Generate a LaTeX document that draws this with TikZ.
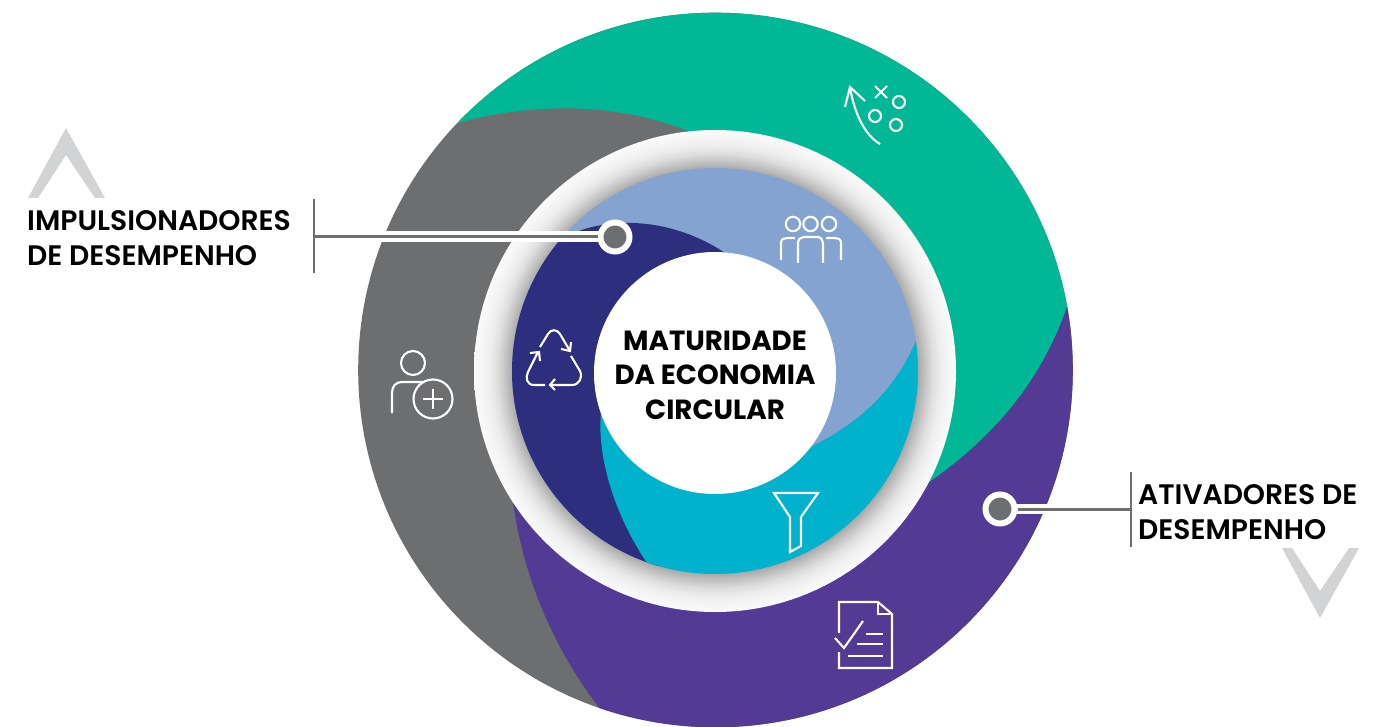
\documentclass[tikz,border=0pt]{standalone}
\usepackage{fontspec}
\setmainfont{Poppins}[UprightFont=* SemiBold,BoldFont=* Bold]
\pgfdeclareradialshading{ringshade}{\pgfpoint{0bp}{0bp}}{color(0bp)=(black!34);color(21bp)=(black!34);color(21.8bp)=(black!23);color(22.6bp)=(black!13);color(23.4bp)=(black!7);color(24.2bp)=(black!4);color(25bp)=(black!2);color(50bp)=(white)}
\definecolor{cgreen}{HTML}{00B796}
\definecolor{cgray}{HTML}{6D6E70}
\definecolor{cpurple}{HTML}{533A94}
\definecolor{cnavy}{HTML}{2E2E7E}
\definecolor{clight}{HTML}{84A3D1}
\definecolor{cteal}{HTML}{00B2CB}
\definecolor{cchev}{HTML}{D1D3D4}
\tikzset{
  icon/.style={draw=white,line width=2.1pt,fill=none,line join=miter},
  dotmark/.style={circle,fill=cgray,draw=white,line width=6pt,minimum size=29pt,inner sep=0pt},
  leader/.style={draw=cgray,line width=3pt},
  tick/.style={draw=cgray,line width=2pt},
  labeltext/.style={font=\fontsize{28.2pt}{35pt}\selectfont,align=left,anchor=north west,inner sep=0pt,text=black},
  centertext/.style={font=\bfseries\fontsize{27.7pt}{34.5pt}\selectfont,align=center,inner sep=0pt,text=black},
  chevron/.style={fill=cchev,draw=none}
}
\begin{document}
\begin{tikzpicture}[x=1pt,y=-1pt]
\useasboundingbox (0,0) rectangle (1392,727);
\fill[white] (0,0) rectangle (1392,727);
% outer disc and swirl
\fill[cgray] (715.5,370) circle[radius=357.3pt];
\begin{scope}
\clip (715.5,370) circle[radius=357.3pt];
\fill[cgreen] (457,123) .. controls (530,103) and (620,100) .. (700,136) -- (715,371) -- (928,483) .. controls (990,440) and (1040,385) .. (1067,307) -- (1100,290) -- (1100,0) -- (400,0) -- cycle;
\fill[cpurple] (1067,307) .. controls (1040,385) and (990,440) .. (928,483) -- (715,371) -- (510,470) .. controls (516,570) and (555,650) .. (600,709) -- (600,760) -- (1100,760) -- (1100,290) -- cycle;
\end{scope}
% ring
\shade[shading=ringshade] (715,371) circle[radius=241pt];
% inner disc
\begin{scope}
\clip (715,371) circle[radius=203pt];
\fill[clight] (500,150) rectangle (930,590);
\fill[cnavy] (560,240) .. controls (600,215) and (680,212) .. (745,268) -- (715,373) -- (650,600) -- (480,600) -- (480,240) -- cycle;
\fill[cteal] (925,315) .. controls (905,385) and (860,425) .. (800,452) -- (715,373) -- (603,400) .. controls (593,445) and (612,515) .. (652,570) -- (700,620) -- (950,620) -- (950,315) -- cycle;
\end{scope}
\node[circle,fill=white,minimum size=242pt,inner sep=0pt] (hub) at (715,373) {};
\node[centertext] (hubtext) at (715,375) {MATURIDADE\\DA ECONOMIA\\CIRCULAR};
% left label
\coordinate (barLa) at (314,199);
\coordinate (barLb) at (314,273);
\coordinate (joinL) at (314,237);
\draw[tick] (barLa) -- (barLb);
\fill[white] (370,231.5) rectangle (600,242.5);
\node[dotmark] (dotL) at (615,237) {};
\draw[leader] (joinL) -- (dotL);
\node[labeltext] (labelL) at (27,210.5) {IMPULSIONADORES\\DE DESEMPENHO};
% right label
\coordinate (barRa) at (1131,472);
\coordinate (barRb) at (1131,547);
\coordinate (joinR) at (1131,509);
\draw[tick] (barRa) -- (barRb);
\fill[white] (1015,504) rectangle (1065,514);
\node[dotmark] (dotR) at (1000,509) {};
\draw[leader] (dotR) -- (joinR);
\node[labeltext] (labelR) at (1138,484) {ATIVADORES DE\\DESEMPENHO};
% chevrons
\fill[chevron] (66,128) -- (105,198) -- (95,198) -- (66,155) -- (38,198) -- (28,198) -- cycle;
\fill[chevron] (1320,618) -- (1359,548) -- (1349,548) -- (1320,591) -- (1292,548) -- (1282,548) -- cycle;
% strategy icon
\draw[icon] (880,144) .. controls (865,135) and (855,115) .. (850,88);
\draw[icon] (845,107) -- (850,87) -- (865,101);
\draw[icon] (875,86) -- (887,98) (887,86) -- (875,98);
\draw[icon] (899,102) circle[radius=6pt] (875,116) circle[radius=6pt] (896,125) circle[radius=6pt];
% people icon
\draw[icon] (793,224) circle[radius=7.2pt] (810.5,224) circle[radius=7.2pt] (829,224) circle[radius=7.2pt];
\draw[icon] (781,260) -- (781,243) .. controls (781,239) and (784,238) .. (787,238) -- (795,238);
\draw[icon] (798,263) -- (798,243) .. controls (798,239) and (801,237) .. (804,237) -- (817,237) .. controls (821,237) and (823,240) .. (823,243) -- (823,263);
\draw[icon] (841,260) -- (841,243) .. controls (841,239) and (838,238) .. (835,238) -- (826,238);
% person plus icon
\draw[icon] (413,363) circle[radius=12pt];
\draw[icon] (392,413) -- (392,393) .. controls (392,386) and (396,382) .. (402,382) -- (424,382);
\draw[icon] (433,399) circle[radius=19.5pt];
\draw[icon] (423,399) -- (443,399) (433,389) -- (433,409);
% recycle icon
\draw[icon] (540,347) -- (548,334) .. controls (551,329) and (557,329) .. (560,334) -- (570,351);
\draw[icon] (571,342) -- (570,351) -- (561,349);
\draw[icon] (571,356) -- (580,371) .. controls (583,378) and (579,385) .. (572,385) -- (550,385);
\draw[icon] (555,379) -- (550,385) -- (555,390);
\draw[icon] (545,385) -- (534,385) .. controls (527,385) and (525,378) .. (528,372) -- (538,352);
\draw[icon] (530,353) -- (539,352) -- (540,361);
% funnel icon
\draw[icon] (774,493) -- (818,493) -- (801,517) -- (801,546) -- (790,552) -- (790,517) -- cycle;
% document icon
\draw[icon] (839,633) -- (839,602) -- (878,602) -- (892,614) -- (892,668) -- (839,668) -- (839,652);
\draw[icon] (878,602) -- (878,614) -- (892,614);
\draw[icon] (835,638) -- (844,648) -- (863,621);
\draw[icon] (866,634) -- (883,634) (857,644) -- (883,644) (848,656) -- (883,656);
\end{tikzpicture}
\end{document}
